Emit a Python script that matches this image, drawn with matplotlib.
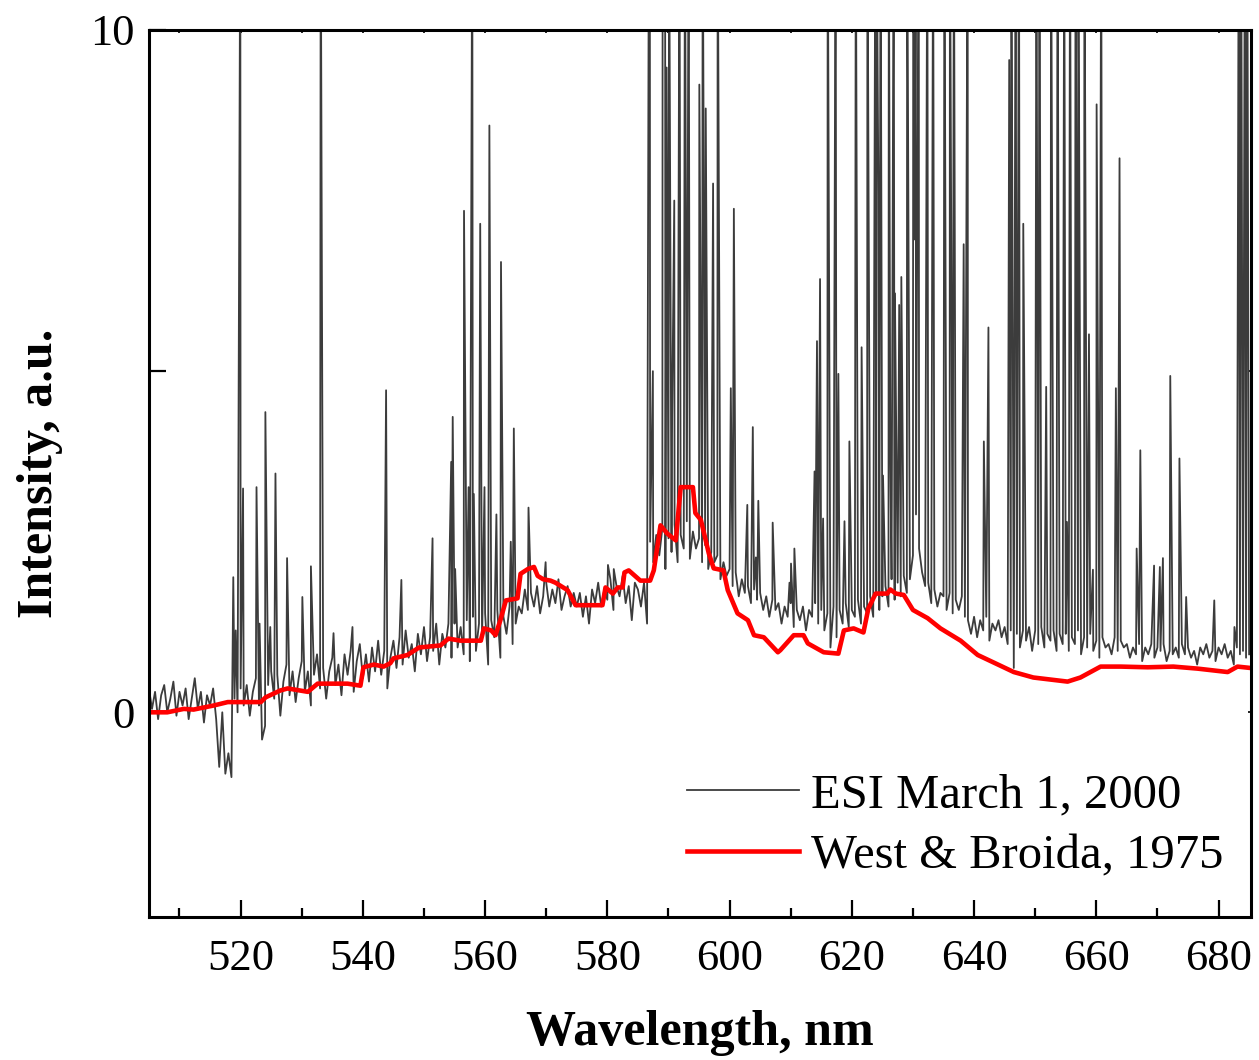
import numpy as np
import matplotlib
matplotlib.use("Agg")
import matplotlib.pyplot as plt

plt.rcParams['font.family'] = ['Liberation Serif', 'DejaVu Serif']

# ESI March 1, 2000 - continuum read every 0.5 nm from 505 nm
esi_cont = [
    0.35, 0.05, 0.3, -0.1, 0.25, 0.4, 0.0, 0.2, 0.45, -0.05, 0.3, 0.1, 0.35, -0.1, 0.2, 0.5, 0.05, 0.3, -0.15, 0.25,
    0.1, 0.35, -0.1, -0.8, 0.0, -0.9, -0.6, -0.95, 0.2, 0.0, 0.35, 0.1, 0.4, -0.05, 0.3, 0.5, 0.1, -0.4, -0.2, 0.4,
    0.6, 0.2, 0.55, -0.05, 0.45, 0.7, 0.25, 0.6, 0.15, 0.5, 0.75, 0.3, 0.6, 0.1, 0.55, 0.85, 0.35, 0.65, 0.2, 0.6,
    0.8, 0.4, 0.7, 0.25, 0.85, 0.55, 0.9, 0.3, 0.75, 1.0, 0.5, 0.85, 0.45, 0.95, 0.6, 1.05, 0.55, 0.9, 0.35, 0.8,
    1.05, 0.65, 1.1, 0.7, 1.2, 0.8, 1.0, 0.6, 1.15, 0.85, 1.25, 0.75, 1.1, 0.9, 1.3, 0.7, 1.15, 0.95, 1.3, 0.8,
    1.3, 0.95, 1.25, 0.85, 1.35, 0.75, 1.4, 0.9, 1.3, 1.05, 1.45, 0.7, 1.35, 1.1, 1.5, 0.8, 1.4, 1.15, 1.55, 1.0,
    1.3, 1.55, 1.45, 1.8, 1.5, 1.75, 1.55, 1.85, 1.45, 1.7, 1.9, 1.55, 1.8, 1.6, 1.95, 1.5, 1.7, 1.85, 1.55, 1.75,
    1.55, 1.75, 1.4, 1.7, 1.3, 1.8, 1.6, 1.9, 1.55, 1.8, 1.65, 1.95, 1.5, 1.85, 1.7, 2.0, 1.6, 1.85, 1.35, 1.9,
    1.8, 1.55, 1.9, 1.3, 2.5, 2.2, 2.6, 2.3, 2.7, 2.1, 2.55, 2.35, 2.75, 2.2, 2.6, 2.4, 2.8, 2.25, 2.65, 2.4,
    2.55, 2.2, 2.45, 2.1, 2.35, 2.2, 2.3, 1.95, 2.2, 2.0, 2.1, 1.85, 2.05, 1.7, 1.95, 1.75, 1.85, 1.6, 1.8, 1.65,
    1.75, 1.5, 1.7, 1.4, 1.65, 1.5, 1.6, 1.3, 1.55, 1.4, 1.6, 1.25, 1.5, 1.35, 1.55, 1.2, 1.5, 1.4, 1.6, 1.3,
    1.5, 1.2, 1.45, 0.95, 1.55, 1.1, 1.5, 1.3, 1.6, 1.25, 1.5, 1.4, 1.65, 1.3, 1.55, 1.45, 1.7, 1.4, 1.75, 1.5,
    1.7, 1.85, 1.55, 1.95, 1.65, 1.9, 1.7, 2.0, 1.75, 1.95, 2.3, 2.9, 2.4, 2.05, 1.85, 1.9, 1.6, 1.8, 1.55, 1.75,
    1.7, 1.5, 1.75, 1.45, 1.65, 1.5, 1.7, 1.4, 1.35, 1.15, 1.4, 1.1, 1.35, 1.2, 1.4, 1.05, 1.3, 1.2, 1.35, 1.1,
    1.25, 1.0, 1.2, 0.65, 1.15, 0.95, 1.2, 1.05, 1.25, 0.9, 1.2, 1.0, 1.25, 0.95, 1.15, 1.05, 1.2, 0.9, 1.15, 1.0,
    1.15, 0.9, 1.1, 1.0, 1.2, 0.85, 1.1, 0.95, 1.15, 0.9, 1.05, 0.8, 1.1, 0.95, 1.0, 0.85, 1.1, 0.9, 1.05, 0.95,
    1.0, 0.8, 0.95, 0.85, 1.0, 0.75, 0.95, 0.85, 1.0, 0.8, 0.95, 0.9, 1.0, 0.75, 0.9, 0.85, 0.95, 0.8, 1.0, 0.85,
    0.95, 0.8, 0.9, 0.7, 0.95, 0.85, 1.0, 0.8, 0.9, 0.75, 0.95, 0.85, 1.0, 0.8, 0.9, 0.7, 0.95, 0.85, 0.9, 0.8,
    0.85,
]

# emission lines on top of the continuum (12 = off scale)
line_wl = [518.8, 519.2, 519.95, 520.4, 522.6, 523.1, 524.05, 524.85, 525.7, 527.6,
           530.1, 531.5, 533.1, 535.2, 538.3, 543.8, 546.3, 551.4, 554.45, 554.7,
           555.1, 556.55, 557.3, 557.9, 558.15, 559.2, 559.9, 560.7, 561.85, 562.6,
           564.2, 564.7, 567.1, 569.9, 580.1, 581.05,
           586.8, 586.95, 587.45, 589.05, 589.3, 589.45, 589.7, 590.1, 590.6, 590.95,
           591.8, 592.7, 593.3, 595.05, 595.6, 596.1, 597.3, 598.05, 600.2, 600.7,
           602.9, 603.8, 604.3, 604.7, 607.05, 609.8, 610.05, 610.6, 613.9, 614.3,
           614.8, 615.3, 616.05, 617.35, 617.8, 618.8, 619.6, 620.65, 621.6, 622.55,
           623.85, 624.05, 624.35, 624.7, 625.1, 626.05, 626.3, 626.85, 627.05, 627.75,
           628.1, 629.05, 630.05, 630.3, 630.45, 630.95, 632.35, 633.3, 635.15, 636.05,
           636.7, 638.3, 638.95, 641.6, 642.35, 645.75, 646.1, 646.8, 647.35, 648.05,
           650.2, 650.7, 651.8, 652.6, 653.65, 654.75, 655.2, 655.7, 656.6, 657.05,
           658.05, 658.8, 659.45, 660.05, 660.8, 663.2, 663.8, 666.6, 667.2, 669.45,
           670.4, 670.9, 672.1, 673.6, 674.7, 679.3, 682.6, 683.3, 683.7, 684.3,
           684.7]
line_h = [1.98, 1.2, 12, 3.28, 3.3, 1.3, 4.4, 1.25, 3.5, 2.26,
          1.69, 2.14, 12, 1.16, 1.25, 4.72, 1.94, 2.55, 3.67, 4.33,
          2.1, 7.35, 3.3, 12, 3.2, 7.16, 3.3, 8.6, 2.9, 6.6,
          2.5, 4.16, 3.0, 2.2, 2.16, 2.1,
          12, 12, 5.0, 12, 12, 12, 9.45, 12, 4.35, 7.5,
          12, 12, 12, 9.2, 12, 8.85, 7.75, 12, 4.75, 7.38,
          3.04, 4.18, 2.27, 3.1, 2.78, 1.9, 2.18, 2.4, 3.53, 5.44,
          6.35, 2.84, 12, 12, 4.96, 2.8, 3.97, 12, 5.35, 12,
          12, 12, 7.57, 12, 3.47, 12, 3.7, 12, 6.14, 5.97,
          6.38, 12, 12, 6.93, 12, 12, 12, 12, 12, 12,
          12, 6.86, 12, 3.97, 5.64, 9.56, 12, 12, 12, 7.16,
          12, 12, 4.77, 12, 12, 12, 2.79, 12, 12, 12,
          12, 5.54, 2.09, 8.91, 12, 4.75, 8.12, 2.4, 3.84, 2.15,
          2.13, 2.26, 4.93, 3.72, 1.69, 1.64, 1.25, 12, 12, 12,
          12]

# West & Broida, 1975
wb_wl = [505, 508, 510.7, 512.3, 515.6, 517.9, 523.3, 524.1, 526.5, 527.7,
         531.0, 532.6, 537.5, 539.6, 540.1, 541.8, 543.4, 544.5, 545.0, 547.3,
         549.2, 552.7, 554.0, 556.0, 557.6, 559.3, 559.8, 561.0, 561.7, 562.5,
         563.4, 565.3, 565.8, 567.0, 568.0, 568.6, 569.5, 570.7, 571.5, 573.5,
         574.8, 579.2, 579.7, 580.9, 581.7, 582.5, 582.8, 583.5, 585.4, 587.0,
         587.6, 588.7, 589.8, 591.2, 592.0, 594.0, 594.4, 595.3, 596.6, 597.4,
         599.0, 599.7, 601.3, 603.0, 604.0, 605.6, 607.9, 608.3, 609.7, 610.5,
         612.1, 612.8, 615.4, 617.8, 618.7, 620.3, 621.9, 622.7, 623.9, 625.8,
         626.3, 627.2, 628.5, 630.0, 632.4, 634.5, 637.8, 640.6, 643.2, 646.5,
         649.7, 652.5, 655.3, 657.4, 660.7, 664.0, 668.4, 672.6, 676.6, 681.5,
         683.1, 685.2]
wb_val = [0.0, 0.0, 0.05, 0.04, 0.1, 0.15, 0.15, 0.22, 0.32, 0.35,
          0.3, 0.42, 0.42, 0.39, 0.66, 0.7, 0.67, 0.72, 0.79, 0.84,
          0.95, 0.98, 1.08, 1.05, 1.05, 1.05, 1.23, 1.2, 1.13, 1.35,
          1.64, 1.67, 2.03, 2.1, 2.13, 2.0, 1.95, 1.93, 1.9, 1.79,
          1.57, 1.57, 1.83, 1.74, 1.83, 1.83, 2.05, 2.08, 1.93, 1.93,
          2.08, 2.74, 2.62, 2.52, 3.3, 3.3, 2.92, 2.82, 2.33, 2.11,
          2.08, 1.79, 1.45, 1.35, 1.13, 1.1, 0.88, 0.91, 1.05, 1.13,
          1.13, 1.01, 0.88, 0.86, 1.2, 1.23, 1.17, 1.52, 1.74, 1.74,
          1.8, 1.74, 1.72, 1.5, 1.38, 1.23, 1.05, 0.84, 0.73, 0.59,
          0.51, 0.48, 0.45, 0.51, 0.67, 0.67, 0.66, 0.67, 0.64, 0.59,
          0.67, 0.65]

x_ticks = [520, 540, 560, 580, 600, 620, 640, 660, 680]
y_ticks = [0, 5, 10]
y_ticklabels = ['0', '', '10']

# merge continuum samples and line peaks into one trace
cont_wl = 505 + 0.5 * np.arange(len(esi_cont))
esi_wl = np.concatenate([cont_wl, line_wl])
esi_val = np.concatenate([esi_cont, line_h])
order = np.argsort(esi_wl, kind='stable')
esi_wl = esi_wl[order]
esi_val = esi_val[order]

fig = plt.figure(figsize=(12.59, 10.6), dpi=100)
ax = fig.add_axes([0.1183, 0.1349, 0.8753, 0.8368])

ax.plot(esi_wl, esi_val, color='#3c3c3c', lw=1.3, label='ESI March 1, 2000')
ax.plot(wb_wl, wb_val, color='#ff0000', lw=3.3, label='West & Broida, 1975')

ax.set_xlim(505, 685.3)
ax.set_ylim(-3, 10)
ax.set_xticks(x_ticks)
ax.set_xticks(np.arange(510, 685, 20), minor=True)
ax.set_yticks(y_ticks)
ax.set_yticklabels(y_ticklabels)

for s in ax.spines.values():
    s.set_linewidth(2.2)
ax.tick_params(axis='both', which='major', direction='in', length=12, width=1.6,
               labelsize=32)
ax.tick_params(axis='x', which='major', pad=16)
ax.tick_params(axis='y', which='major', pad=10)
ax.tick_params(axis='x', which='minor', direction='in', length=6.5, width=1.6)

# tiny ticks on top and right
top = ax.secondary_xaxis('top')
top.set_xticks(np.arange(510, 685, 10))
top.tick_params(direction='in', length=2.5, width=1.2, labeltop=False)
right = ax.secondary_yaxis('right')
right.set_yticks(y_ticks)
right.tick_params(direction='in', length=2.5, width=1.2, labelright=False)

ax.set_xlabel('Wavelength, nm', fontsize=36, fontweight='bold', labelpad=22)
ax.set_ylabel('Intensity, a.u.', fontsize=36, fontweight='bold', labelpad=20)

ax.legend(loc='upper left', bbox_to_anchor=(0.488, 0.162), frameon=False,
          fontsize=35, handlelength=2.3, handletextpad=0.25, labelspacing=0.35,
          borderpad=0, borderaxespad=0)

fig.savefig('out.png', dpi=100)
